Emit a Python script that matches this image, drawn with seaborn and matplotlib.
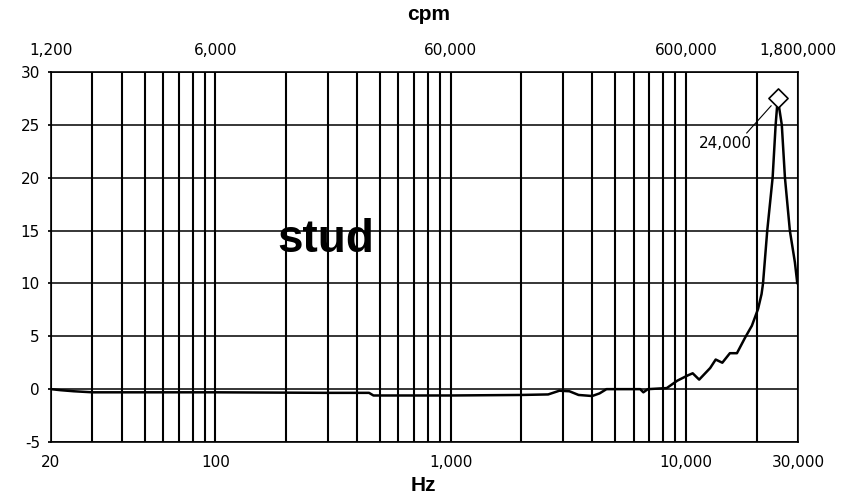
import numpy as np
import pandas as pd
import matplotlib
matplotlib.use("Agg")
import matplotlib.pyplot as plt
import matplotlib.ticker as mticker
import seaborn as sns

# ---- data ----
freq_hz = [20, 22, 25, 30, 100, 300, 450, 470, 1000, 2000, 2600, 2900, 3200,
           3500, 4000, 4300, 4600, 6400, 6600, 6900, 8300, 9200, 10200, 10700,
           11400, 12700, 13400, 14300, 15400, 16500, 17900, 19100, 20300,
           21000, 21300, 22200, 23400, 24100, 24600, 25600, 26400, 27700,
           29100, 29800]
level = [0.0, -0.1, -0.2, -0.3, -0.3, -0.35, -0.35, -0.6, -0.6, -0.55, -0.5,
         -0.15, -0.2, -0.55, -0.65, -0.4, 0.0, 0.0, -0.3, 0.0, 0.1, 0.8, 1.3,
         1.5, 0.9, 2.0, 2.8, 2.5, 3.4, 3.4, 4.9, 6.0, 7.6, 9.0, 10.0, 15.0,
         20.0, 25.0, 27.5, 25.0, 20.0, 15.0, 12.0, 10.0]

peak_hz = [24600]
peak_level = [27.5]
peak_label = "24,000"

hz_ticks = [20, 100, 1000, 10000, 30000]
hz_tick_labels = ["20", "100", "1,000", "10,000", "30,000"]
cpm_ticks = [1200, 6000, 60000, 600000, 1800000]
cpm_tick_labels = ["1,200", "6,000", "60,000", "600,000", "1,800,000"]
y_ticks = [-5, 0, 5, 10, 15, 20, 25, 30]
y_tick_labels = ["-5", "0", "5", "10", "15", "20", "25", "30"]

df = pd.DataFrame({"Hz": freq_hz, "level": level})
peak_df = pd.DataFrame({"Hz": peak_hz, "level": peak_level})

sns.set_theme(style="white")
plt.rcParams["font.family"] = ["DejaVu Sans"]
plt.rcParams["axes.unicode_minus"] = False
plt.rcParams["text.color"] = "black"

BOLD = ["Liberation Sans", "DejaVu Sans"]

fig = plt.figure(figsize=(8.56, 4.98), dpi=100)
ax = fig.add_axes([51 / 856, 1 - 442 / 498, (798 - 51) / 856, (442 - 72) / 498])

sns.lineplot(data=df, x="Hz", y="level", ax=ax, color="black", linewidth=1.8,
             sort=True, estimator=None)
sns.scatterplot(data=peak_df, x="Hz", y="level", ax=ax, marker="D", s=95,
                facecolor="white", edgecolor="black", linewidth=1.2, zorder=5)

ax.set_xscale("log")
ax.set_xlim(20, 30000)
ax.set_ylim(-5, 30)

ax.set_xticks(hz_ticks)
ax.set_xticklabels(hz_tick_labels)
minor = []
for dec in [10, 100, 1000, 10000]:
    for m in range(2, 10):
        v = dec * m
        if 20 < v < 30000 and v not in hz_ticks:
            minor.append(v)
ax.xaxis.set_minor_locator(mticker.FixedLocator(minor))
ax.xaxis.set_minor_formatter(mticker.NullFormatter())
ax.set_yticks(y_ticks)
ax.set_yticklabels(y_tick_labels)

ax.grid(True, which="major", axis="y", color="black", linewidth=1.1)
ax.grid(True, which="major", axis="x", color="black", linewidth=1.5)
ax.grid(True, which="minor", axis="x", color="black", linewidth=1.5)
ax.set_axisbelow(True)

for sp in ax.spines.values():
    sp.set_color("black")
    sp.set_linewidth(1.2)

ax.tick_params(axis="y", which="both", length=2, pad=6, labelsize=11,
               color="black", labelcolor="black", left=True)
ax.tick_params(axis="x", which="both", length=0, pad=9, labelsize=11,
               labelcolor="black")
ax.set_xlabel("")
ax.set_ylabel("")

# top cpm axis
sec = ax.secondary_xaxis("top", functions=(lambda x: x * 60, lambda x: x / 60))
sec.set_xscale("log")
sec.set_xticks(cpm_ticks)
sec.set_xticklabels(cpm_tick_labels)
sec.xaxis.set_minor_locator(mticker.NullLocator())
sec.tick_params(axis="x", which="both", length=0, pad=10, labelsize=11,
                labelcolor="black")
for sp in sec.spines.values():
    sp.set_visible(False)

fig.text(429 / 856, 1 - 14 / 498, "cpm", ha="center", va="center",
         fontsize=15, fontweight="bold", family=BOLD, color="black")
fig.text(423 / 856, 1 - 485 / 498, "Hz", ha="center", va="center",
         fontsize=15, fontweight="bold", family=BOLD, color="black")

ax.text(183, 13.0, "stud", ha="left", va="baseline", fontsize=33,
        fontweight="bold", family=BOLD, color="black", zorder=6)

ax.annotate(peak_label, xy=(peak_hz[0], peak_level[0]), xytext=(14700, 23.2),
            ha="center", va="center", fontsize=11, color="black", zorder=6,
            arrowprops=dict(arrowstyle="-", color="black", lw=0.8,
                            relpos=(0.85, 1.0), shrinkA=0, shrinkB=7))

fig.savefig("out.png", dpi=100, facecolor="white")
